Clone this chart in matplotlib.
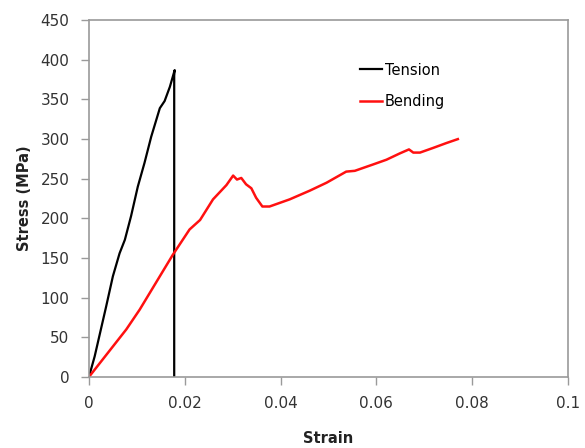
import matplotlib.pyplot as plt

# Tension test (strain, stress in MPa)
tension_strain = [0.0, 0.0012, 0.0036, 0.0050, 0.0064, 0.0075, 0.0088, 0.0102,
                  0.0116, 0.0130, 0.0148, 0.0158, 0.0169, 0.0179, 0.0178, 0.0178]
tension_stress = [0, 26, 89, 127, 156, 173, 203, 240,
                  270, 303, 339, 348, 366, 387, 380, 0]

# Bending test
bending_strain = [0.0, 0.0078, 0.0106, 0.0175, 0.0210, 0.0232, 0.0259, 0.0287,
                  0.0301, 0.0309, 0.0318, 0.0328, 0.0339, 0.0349, 0.0362, 0.0377,
                  0.0419, 0.0461, 0.0496, 0.0537, 0.0555, 0.0593, 0.0621, 0.0649,
                  0.0668, 0.0677, 0.0691, 0.0719, 0.0746, 0.0770]
bending_stress = [0, 60, 85, 154, 186, 198, 224, 242,
                  254, 249, 251, 243, 238, 226, 215, 215,
                  224, 235, 245, 259, 260, 268, 274, 282,
                  287, 283, 283, 289, 295, 300]

x_ticks = [0, 0.02, 0.04, 0.06, 0.08, 0.1]
x_tick_labels = ["0", "0.02", "0.04", "0.06", "0.08", "0.1"]
y_ticks = list(range(0, 451, 50))

fig = plt.figure(figsize=(5.85, 4.48), dpi=100)
ax = fig.add_axes([0.152, 0.1585, 0.819, 0.7965])

ax.plot(tension_strain, tension_stress, color="black", linewidth=1.6, label="Tension")
ax.plot(bending_strain, bending_stress, color="#ff1010", linewidth=1.8, label="Bending")

ax.set_xlim(0, 0.1)
ax.set_ylim(0, 450)
ax.set_xticks(x_ticks)
ax.set_xticklabels(x_tick_labels)
ax.set_yticks(y_ticks)

for side in ["left", "right", "top", "bottom"]:
    ax.spines[side].set_color("#9a9a9a")
    ax.spines[side].set_linewidth(1.2)
ax.tick_params(direction="out", length=6, width=1, color="#9a9a9a",
               labelsize=11, labelcolor="#333333", pad=8)

ax.set_xlabel("Strain", fontsize=10.5, fontweight="bold", color="#222222", labelpad=14)
ax.set_ylabel("Stress (MPa)", fontsize=10.5, fontweight="bold", color="#222222", labelpad=6)

ax.legend(loc="upper left", bbox_to_anchor=(0.538, 0.918), frameon=False,
          fontsize=10.5, handlelength=1.5, handletextpad=0.2, labelspacing=1.15)

plt.savefig("out.png", dpi=100)
